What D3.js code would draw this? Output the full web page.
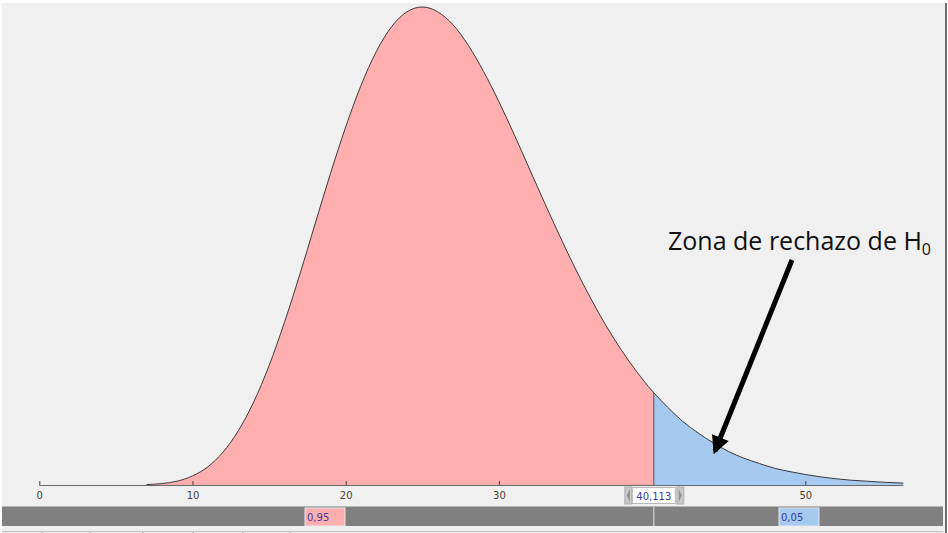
<!DOCTYPE html>
<html>
<head>
<meta charset="utf-8">
<script src="https://cdn.jsdelivr.net/npm/d3@7"></script>
<style>
  html, body { margin: 0; padding: 0; background: #ffffff; }
  svg { display: block; }
</style>
</head>
<body>
<div id="chart"></div>
<script>
// Chi-square density (relative to peak)
const xValues = [7, 8, 9, 10, 11, 12, 13, 14, 15, 16, 17, 18, 19, 20, 21, 22, 23, 24, 25, 26, 27, 28, 29, 30,
    31, 32, 33, 34, 35, 36, 37, 38, 39, 40, 40.113, 41, 42, 43, 44, 45, 46, 47, 48, 49, 50, 51, 52, 53, 54, 55, 56, 56.4];
const density = [0.001, 0.003, 0.008, 0.019, 0.038, 0.069, 0.114, 0.174, 0.250, 0.340, 0.440, 0.546, 0.651, 0.749,
    0.836, 0.907, 0.959, 0.990, 1.000, 0.990, 0.963, 0.920, 0.865, 0.802, 0.733, 0.661, 0.589, 0.519, 0.452,
    0.390, 0.333, 0.282, 0.237, 0.197, 0.193, 0.163, 0.133, 0.109, 0.088, 0.070, 0.056, 0.045, 0.035, 0.028,
    0.022, 0.017, 0.013, 0.010, 0.008, 0.006, 0.0045, 0.004];
const xTicks = [0, 10, 20, 30, 50];
const critical = 40.113;
const criticalLabel = '40,113';
const probLabels = ['0,95', '0,05'];
const annotation = 'Zona de rechazo de H';

const data = xValues.map((x, i) => ({ x: x, y: density[i] }));

const totalWidth = 948;
const totalHeight = 533;

const svg = d3.select('#chart')
    .append('svg')
    .attr('width', totalWidth)
    .attr('height', totalHeight);

// Panel background
svg.append('rect')
    .attr('x', 2).attr('y', 3)
    .attr('width', 943).attr('height', 530)
    .style('fill', '#f0f0f0');
svg.append('rect')
    .attr('x', 945).attr('y', 3)
    .attr('width', 2).attr('height', 530)
    .style('fill', '#707070');

// Scales
const x = d3.scaleLinear().domain([0, 50]).range([39.3, 805.3]);
const y = d3.scaleLinear().domain([0, 1]).range([485, 7]);

const area = d3.area()
    .x(d => x(d.x))
    .y0(y(0))
    .y1(d => y(d.y))
    .curve(d3.curveMonotoneX);

const line = d3.line()
    .x(d => x(d.x))
    .y(d => y(d.y))
    .curve(d3.curveMonotoneX);

const left = data.filter(d => d.x <= critical);
const right = data.filter(d => d.x >= critical);

svg.append('path')
    .datum(left)
    .attr('d', area)
    .style('fill', '#ffafb0');

svg.append('path')
    .datum(right)
    .attr('d', area)
    .style('fill', '#a6c9ef');

// Axis
const axis = svg.append('g')
    .attr('transform', `translate(0,${y(0)})`)
    .call(d3.axisBottom(x).tickValues(xTicks).tickSize(4).tickSizeOuter(0));
axis.select('.domain').remove();
axis.selectAll('.tick line').style('stroke', '#404040').attr('y1', 0).attr('y2', -4);
axis.selectAll('.tick text')
    .attr('y', 7)
    .style('font-family', 'DejaVu Sans')
    .style('font-size', '10px')
    .style('fill', '#4a4030');

svg.append('line')
    .attr('x1', x(0)).attr('x2', x(56.4))
    .attr('y1', y(0) + 0.5).attr('y2', y(0) + 0.5)
    .style('stroke', '#6a6a6a')
    .style('stroke-width', 1);

// Curve outline and critical divider
svg.append('path')
    .datum(data)
    .attr('d', line)
    .style('fill', 'none')
    .style('stroke', '#3a3a3a')
    .style('stroke-width', 1);

const critPoint = data.find(d => d.x === critical);
svg.append('line')
    .attr('x1', x(critical)).attr('x2', x(critical))
    .attr('y1', y(critPoint.y)).attr('y2', y(0))
    .style('stroke', '#505050')
    .style('stroke-width', 1);

// Critical value spinner
const spin = svg.append('g');
spin.append('rect')
    .attr('x', x(critical) - 29).attr('y', 487)
    .attr('width', 7).attr('height', 17)
    .style('fill', '#c8c8c8').style('stroke', '#b0b0b0');
spin.append('rect')
    .attr('x', x(critical) + 23).attr('y', 487)
    .attr('width', 7).attr('height', 17)
    .style('fill', '#c8c8c8').style('stroke', '#b0b0b0');
spin.append('path')
    .attr('d', `M${x(critical) - 24},489 L${x(critical) - 27},495.5 L${x(critical) - 24},502 Z`)
    .style('fill', '#909090');
spin.append('path')
    .attr('d', `M${x(critical) + 25},489 L${x(critical) + 28},495.5 L${x(critical) + 25},502 Z`)
    .style('fill', '#909090');
spin.append('rect')
    .attr('x', x(critical) - 21.5).attr('y', 487.5)
    .attr('width', 43).attr('height', 16)
    .style('fill', '#ffffff').style('stroke', '#b8b8b8');
spin.append('text')
    .attr('x', x(critical)).attr('y', 499.5)
    .attr('text-anchor', 'middle')
    .style('font-family', 'DejaVu Sans')
    .style('font-size', '10px')
    .style('fill', '#3a3a9a')
    .text(criticalLabel);

// Probability strip
svg.append('rect')
    .attr('x', 2).attr('y', 506)
    .attr('width', 941).attr('height', 1)
    .style('fill', '#b8b8b8');
svg.append('rect')
    .attr('x', 2).attr('y', 507)
    .attr('width', 941).attr('height', 19)
    .style('fill', '#808080');
svg.append('rect')
    .attr('x', x(critical) - 0.5).attr('y', 507)
    .attr('width', 1).attr('height', 19)
    .style('fill', '#e8e8e8');

const boxes = [
    { label: probLabels[0], x: 305, fill: '#ffafb0' },
    { label: probLabels[1], x: 779, fill: '#a6c9ef' }
];
boxes.forEach(b => {
    svg.append('rect')
        .attr('x', b.x).attr('y', 508)
        .attr('width', 40).attr('height', 18)
        .style('fill', b.fill)
        .style('stroke', '#e8e8e8');
    svg.append('text')
        .attr('x', b.x + 2).attr('y', 521)
        .style('font-family', 'DejaVu Sans')
        .style('font-size', '10px')
        .style('fill', '#3a3a9a')
        .text(b.label);
});

// Bottom tab outlines
svg.append('rect')
    .attr('x', 2).attr('y', 527)
    .attr('width', 941).attr('height', 6)
    .style('fill', '#f0f0f0');
[42, 90, 143, 193, 243, 290].forEach(tx => {
    svg.append('line')
        .attr('x1', tx).attr('x2', tx).attr('y1', 531).attr('y2', 533)
        .style('stroke', '#909090');
});
svg.append('line')
    .attr('x1', 2).attr('x2', 943).attr('y1', 531.5).attr('y2', 531.5)
    .style('stroke', '#c0c0c0');

// Annotation
const label = svg.append('text')
    .attr('x', 668).attr('y', 250)
    .style('font-family', 'Open Sans, Noto Sans, sans-serif')
    .style('font-size', '25px')
    .style('fill', '#111111')
    .text(annotation);
label.append('tspan')
    .attr('dy', 5)
    .style('font-size', '16px')
    .text('0');

svg.append('defs').append('marker')
    .attr('id', 'head')
    .attr('viewBox', '0 0 10 10')
    .attr('refX', 8).attr('refY', 5)
    .attr('markerWidth', 4.5).attr('markerHeight', 3.6)
    .attr('orient', 'auto')
    .append('path')
    .attr('d', 'M0,0 L10,5 L0,10 Z')
    .style('fill', '#000');

svg.append('line')
    .attr('x1', 792).attr('y1', 260)
    .attr('x2', 715).attr('y2', 451)
    .style('stroke', '#000')
    .style('stroke-width', 5)
    .attr('marker-end', 'url(#head)');
</script>
</body>
</html>
